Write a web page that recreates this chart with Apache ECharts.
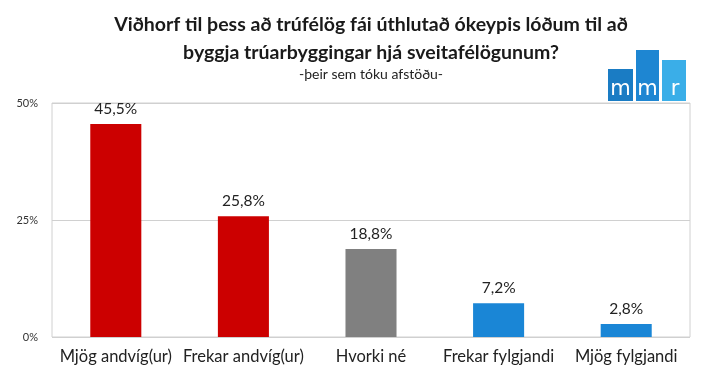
<!DOCTYPE html>
<html><head><meta charset="utf-8">
<script src="https://cdn.jsdelivr.net/npm/echarts@6/dist/echarts.min.js"></script>
<style>html,body{margin:0;padding:0;background:#fff}#c{width:713px;height:389px}</style>
</head><body><div id="c"></div>
<script>
var categories = ['Mjög andvíg(ur)', 'Frekar andvíg(ur)', 'Hvorki né', 'Frekar fylgjandi', 'Mjög fylgjandi'];
var values = [45.5, 25.8, 18.8, 7.2, 2.8];
var barColors = ['#CC0000', '#CC0000', '#808080', '#1A86D6', '#1A86D6'];
var yTicks = [0, 25, 50];
var titleText = 'Viðhorf til þess að trúfélög fái úthlutað ókeypis lóðum til að\nbyggja trúarbyggingar hjá sveitafélögunum?';
var subtitleText = '-þeir sem tóku afstöðu-';

var font = 'Lato, "Open Sans", sans-serif';
var chart = echarts.init(document.getElementById('c'));
function letter(ch, cx) {
  return {type: 'text', x: cx, y: 100, style: {text: ch, fontFamily: '"DejaVu Sans", sans-serif', fontSize: 21,
    fill: '#fff', align: 'center', verticalAlign: 'bottom'}};
}
chart.setOption({
  animation: false,
  title: {
    text: titleText, subtext: subtitleText, left: 366, top: 6, textAlign: 'center',
    textStyle: {fontFamily: font, fontSize: 19.5, fontWeight: 'bold', color: '#1a1a1a', lineHeight: 28},
    subtextStyle: {fontFamily: font, fontSize: 14, color: '#222'},
    itemGap: 0
  },
  grid: {left: 52, right: 23, top: 103, bottom: 52, show: true, borderColor: '#d0d0d0', borderWidth: 1},
  xAxis: {
    type: 'category', data: categories,
    axisLine: {show: false}, axisTick: {show: false},
    axisLabel: {fontFamily: font, fontSize: 16.5, color: '#222', margin: 11, interval: 0}
  },
  yAxis: {
    type: 'value', min: 0, max: 50, interval: 25,
    axisLabel: {formatter: '{value}%', fontFamily: font, fontSize: 11, color: '#333', margin: 14},
    splitLine: {lineStyle: {color: '#d0d0d0'}},
    axisLine: {show: false}, axisTick: {show: false}
  },
  series: [{
    type: 'bar', barWidth: '40%',
    data: values.map(function (v, i) { return {value: v, itemStyle: {color: barColors[i]}}; }),
    label: {show: true, position: 'top', distance: 7, fontFamily: font, fontSize: 15.5, color: '#222',
      formatter: function (p) { return p.value.toFixed(1).replace('.', ',') + '%'; }}
  }],
  graphic: [
    {type: 'rect', shape: {x: 608, y: 69, width: 25, height: 32}, style: {fill: '#1A7CC4'}},
    {type: 'rect', shape: {x: 636, y: 50, width: 23, height: 51}, style: {fill: '#1E86D2'}},
    {type: 'rect', shape: {x: 662, y: 60, width: 24, height: 41}, style: {fill: '#3AAEE8'}},
    letter('m', 620.5), letter('m', 647.5), letter('r', 675)
  ]
});
</script></body></html>
